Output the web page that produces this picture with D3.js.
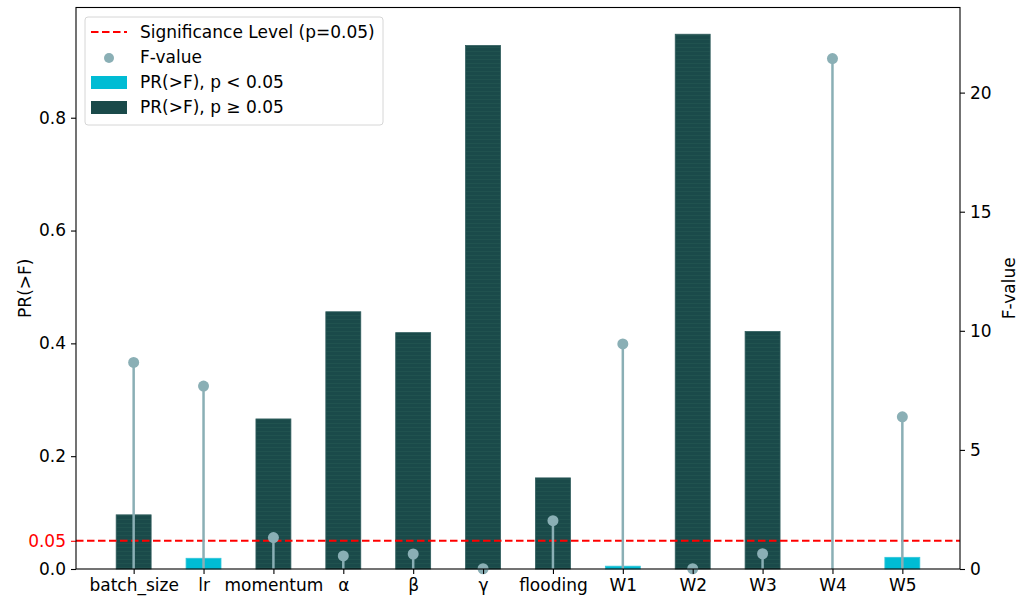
<!DOCTYPE html>
<html>
<head>
<meta charset="utf-8">
<script src="https://cdn.jsdelivr.net/npm/d3@7"></script>
<style>
  html, body { margin: 0; padding: 0; background: #fff; }
  svg { display: block; font-family: "DejaVu Sans", sans-serif; }
</style>
</head>
<body>
<svg id="chart" width="1027" height="599"></svg>
<script>
// Factors tested in the ANOVA
const factors = ["batch_size", "lr", "momentum", "α", "β", "γ", "flooding", "W1", "W2", "W3", "W4", "W5"];
// p-values, PR(>F)
const pValues = [0.096, 0.019, 0.266, 0.456, 0.419, 0.928, 0.1615, 0.005, 0.948, 0.421, 0.0, 0.0207];
// F statistics
const fValues = [8.67, 7.68, 1.32, 0.55, 0.63, 0.01, 2.03, 9.45, 0.01, 0.64, 21.43, 6.39];
const alpha = 0.05;
const leftTicks = [0.0, 0.2, 0.4, 0.6, 0.8];
const rightTicks = [0, 5, 10, 15, 20];
const legendLabels = ["Significance Level (p=0.05)", "F-value", "PR(>F), p < 0.05", "PR(>F), p ≥ 0.05"];

const colSig = "#00bcd4", colNon = "#1a4a4a", colF = "#8aafb5", colLine = "#ff0000";

const svg = d3.select("#chart");
const m = { left: 76, right: 960, top: 7.5, bottom: 569 };

// Linear x scale in category-index units, with matplotlib-like margins
const barW = 0.5;
const x = d3.scaleLinear().domain([-0.825, factors.length - 1 + 0.825]).range([m.left, m.right]);
const yL = d3.scaleLinear().domain([0, d3.max(pValues) * 1.05]).range([m.bottom, m.top]);
const yR = d3.scaleLinear().domain([0, d3.max(fValues) * 1.1]).range([m.bottom, m.top]);

// faint horizontal striping inside the bars
const defs = svg.append("defs");
const pat = defs.append("pattern").attr("id", "stripe").attr("patternUnits", "userSpaceOnUse")
  .attr("width", 8).attr("height", 4);
pat.append("rect").attr("width", 8).attr("height", 4).attr("fill", colNon);
pat.append("rect").attr("y", 3).attr("width", 8).attr("height", 1).attr("fill", "#20524f");

// bars
svg.append("g").selectAll("rect").data(factors).join("rect")
  .attr("x", (d, i) => x(i - barW / 2))
  .attr("width", (d, i) => x(i + barW / 2) - x(i - barW / 2))
  .attr("y", (d, i) => yL(pValues[i]))
  .attr("height", (d, i) => yL(0) - yL(pValues[i]))
  .attr("fill", (d, i) => pValues[i] < alpha ? colSig : "url(#stripe)")
  .attr("stroke", (d, i) => (yL(0) - yL(pValues[i]) < 1) ? "none" : (pValues[i] < alpha ? "#33c6da" : "#2f5c5c"))
  .attr("stroke-width", 0.8);

// significance threshold
svg.append("line")
  .attr("x1", m.left).attr("x2", m.right)
  .attr("y1", yL(alpha)).attr("y2", yL(alpha))
  .attr("stroke", colLine).attr("stroke-width", 2).attr("stroke-dasharray", "7.5,3.5");

// F-value lollipops
const stems = svg.append("g");
stems.selectAll("line").data(factors).join("line")
  .attr("x1", (d, i) => x(i)).attr("x2", (d, i) => x(i))
  .attr("y1", yR(0)).attr("y2", (d, i) => yR(fValues[i]))
  .attr("stroke", colF).attr("stroke-width", 2.5);
stems.selectAll("circle").data(factors).join("circle")
  .attr("cx", (d, i) => x(i)).attr("cy", (d, i) => yR(fValues[i]))
  .attr("r", 5.5).attr("fill", colF);

// axes
const fontSize = 17;
const gx = svg.append("g").attr("transform", `translate(0,${m.bottom})`)
  .call(d3.axisBottom(x).tickValues(d3.range(factors.length)).tickFormat(i => factors[i]).tickSize(5).tickPadding(5));
const gl = svg.append("g").attr("transform", `translate(${m.left},0)`)
  .call(d3.axisLeft(yL).tickValues(leftTicks.concat([alpha])).tickFormat(d => d === alpha ? "0.05" : d3.format(".1f")(d)).tickSize(5).tickPadding(5));
const gr = svg.append("g").attr("transform", `translate(${m.right},0)`)
  .call(d3.axisRight(yR).tickValues(rightTicks).tickFormat(d3.format("d")).tickSize(5).tickPadding(5));
[gx, gl, gr].forEach(g => {
  g.select(".domain").remove();
  g.selectAll(".tick line").attr("stroke", "#000").attr("stroke-width", 1.1);
  g.selectAll("text").attr("font-size", fontSize).attr("fill", "#000")
    .attr("font-family", "DejaVu Sans, sans-serif");
});
const sigTick = gl.selectAll(".tick").filter(d => d === alpha);
sigTick.select("text").attr("fill", colLine);
sigTick.select("line").attr("stroke", colLine);

// frame
svg.append("rect").attr("x", m.left).attr("y", m.top)
  .attr("width", m.right - m.left).attr("height", m.bottom - m.top)
  .attr("fill", "none").attr("stroke", "#000").attr("stroke-width", 1.1);

// axis titles
svg.append("text").attr("transform", `translate(31,${(m.top + m.bottom) / 2}) rotate(-90)`)
  .attr("text-anchor", "middle").attr("font-size", fontSize).text("PR(>F)");
svg.append("text").attr("transform", `translate(1015,${(m.top + m.bottom) / 2}) rotate(-90)`)
  .attr("text-anchor", "middle").attr("font-size", fontSize).text("F-value");

// legend
const lg = svg.append("g").attr("transform", "translate(85,17)");
lg.append("rect").attr("width", 298).attr("height", 108).attr("rx", 3)
  .attr("fill", "#fff").attr("fill-opacity", 0.85).attr("stroke", "#d6d6d6").attr("stroke-width", 1);
const rowY = [15, 40, 65, 90];
lg.append("line").attr("x1", 6).attr("x2", 42).attr("y1", rowY[0]).attr("y2", rowY[0])
  .attr("stroke", colLine).attr("stroke-width", 2).attr("stroke-dasharray", "7.5,3.5");
lg.append("circle").attr("cx", 24).attr("cy", rowY[1] + 1).attr("r", 5).attr("fill", colF);
lg.append("rect").attr("x", 6).attr("y", rowY[2] - 6).attr("width", 36).attr("height", 13).attr("fill", colSig);
lg.append("rect").attr("x", 6).attr("y", rowY[3] - 6).attr("width", 36).attr("height", 13).attr("fill", colNon);
lg.selectAll("text.lbl").data(legendLabels).join("text").attr("class", "lbl")
  .attr("x", 55).attr("y", (d, i) => rowY[i]).attr("dy", "0.35em")
  .attr("font-size", fontSize).text(d => d);
</script>
</body>
</html>
